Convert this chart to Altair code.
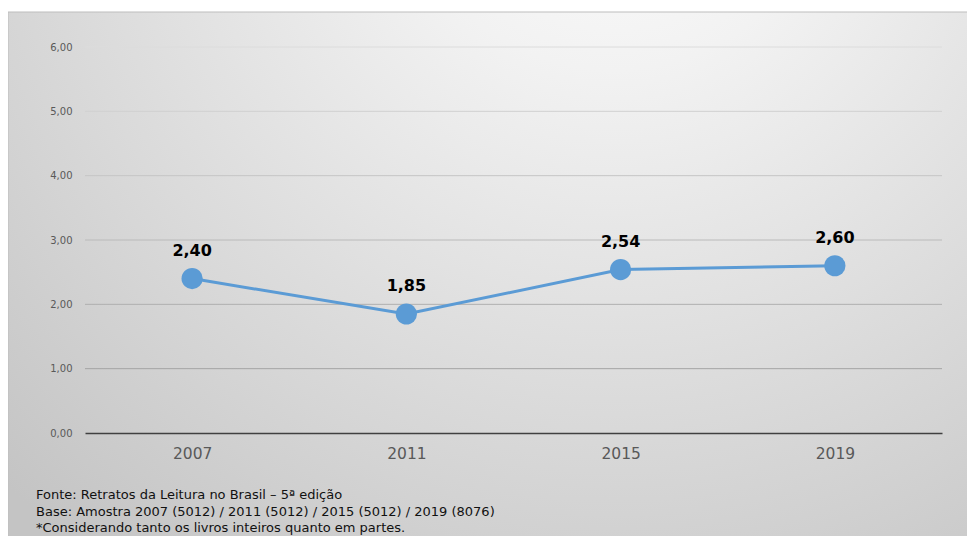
import altair as alt
import pandas as pd

years = ["2007", "2011", "2015", "2019"]
values = [2.40, 1.85, 2.54, 2.60]
grid_values = [1, 2, 3, 4, 5, 6]
footer_lines = [
    "Fonte: Retratos da Leitura no Brasil – 5ª edição",
    "Base: Amostra 2007 (5012) / 2011 (5012) / 2015 (5012) / 2019 (8076)",
    "*Considerando tanto os livros inteiros quanto em partes.",
]

FONT = "DejaVu Sans"
df = pd.DataFrame({"ano": years, "valor": values})
grid_df = pd.DataFrame({"g": grid_values})
bg_df = pd.DataFrame({"k": [0]})

x_enc = alt.X("ano:N", sort=years, scale=alt.Scale(type="point", padding=0.5),
              axis=alt.Axis(title=None, labelAngle=0, labelFontSize=15.5, labelColor="#595959",
                            labelFont=FONT, labelPadding=13, ticks=False, domain=True,
                            domainColor="#404040", domainWidth=1.5, grid=False, zindex=1))
y_scale = alt.Scale(domain=[0, 6], nice=False)
y_enc = alt.Y("valor:Q", scale=y_scale,
              axis=alt.Axis(title=None, values=[0, 1, 2, 3, 4, 5, 6], labelFontSize=10,
                            labelColor="#595959", labelFont=FONT, labelPadding=13,
                            labelExpr="replace(format(datum.value, '.2f'), '.', ',')",
                            ticks=False, domain=False, grid=False, zindex=1))

bg = alt.Chart(bg_df).mark_rect(
    fill={
        "gradient": "radial",
        "x1": 0.62, "y1": 0.05, "r1": 0,
        "x2": 0.62, "y2": 0.05, "r2": 0.9,
        "stops": [{"offset": 0, "color": "#fdfdfd"}, {"offset": 0.25, "color": "#f2f2f2"},
                  {"offset": 1, "color": "#c4c4c4"}],
    },
    stroke="#bdbdbd", strokeWidth=1,
).encode(x=alt.value(-77), x2=alt.value(900), y=alt.value(-35), y2=alt.value(520))

grid = alt.Chart(grid_df).mark_rule(strokeWidth=1).encode(
    y=alt.Y("g:Q", scale=y_scale),
    color=alt.Color("g:Q", scale=alt.Scale(domain=[1, 6], range=["#a4a4a4", "#dcdcdc"]), legend=None),
)

base = alt.Chart(df).encode(x=x_enc, y=y_enc)
line = base.mark_line(color="#5B9BD5", strokeWidth=3)
pts = base.mark_circle(color="#5B9BD5", size=450, opacity=1)
labels = base.mark_text(dy=-28, fontSize=16, fontWeight="bold", font=FONT, color="#000000").encode(
    text=alt.Text("lbl:N")
).transform_calculate(lbl="replace(format(datum.valor, '.2f'), '.', ',')")

footer = alt.Chart(bg_df).mark_text(
    align="left", baseline="top", fontSize=13, font=FONT, color="#111111", lineHeight=16.5
).encode(x=alt.value(-49), y=alt.value(442), text=alt.value(footer_lines))

chart = alt.layer(bg, grid, line, pts, labels, footer).properties(
    width=857, height=386,
    padding={"left": 77, "top": 39, "right": 25, "bottom": 103},
    autosize=alt.AutoSizeParams(type="none"),
).configure_view(stroke=None).configure(background="white")

chart.save("out.html", embed_options={"renderer": "svg", "actions": False})
